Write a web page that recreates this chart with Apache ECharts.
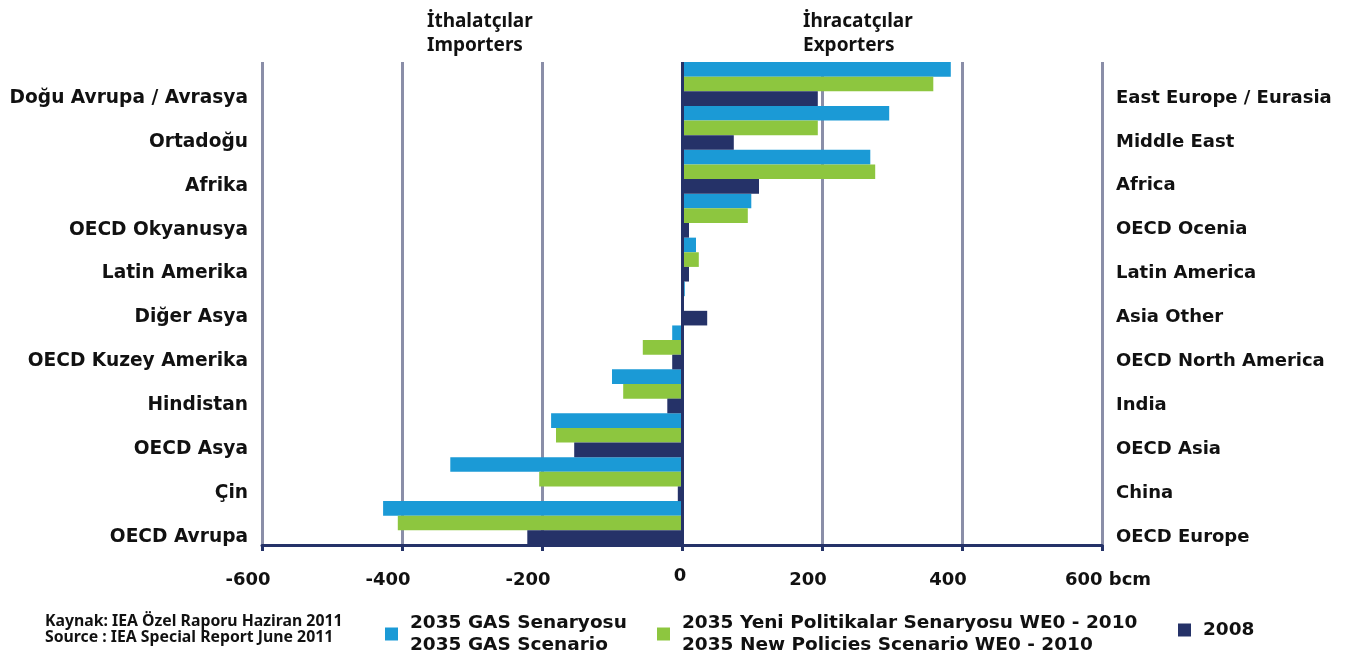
<!DOCTYPE html>
<html>
<head>
<meta charset="utf-8">
<script src="https://cdn.jsdelivr.net/npm/echarts@6/dist/echarts.min.js"></script>
<style>
  html, body { margin: 0; padding: 0; background: #fff; }
  #chart { width: 1353px; height: 652px; }
</style>
</head>
<body>
<div id="chart"></div>
<script>
// Regions, top to bottom (Turkish names on the left, English on the right)
const regionsTr = ['Doğu Avrupa / Avrasya', 'Ortadoğu', 'Afrika', 'OECD Okyanusya', 'Latin Amerika',
  'Diğer Asya', 'OECD Kuzey Amerika', 'Hindistan', 'OECD Asya', 'Çin', 'OECD Avrupa'];
const regionsEn = ['East Europe / Eurasia', 'Middle East', 'Africa', 'OECD Ocenia', 'Latin America',
  'Asia Other', 'OECD North America', 'India', 'OECD Asia', 'China', 'OECD Europe'];

// Net gas trade, bcm (positive = exports, negative = imports)
const gasScenario2035 = [384, 296, 269, 99, 20, 4, -14, -100, -187, -331, -427];
const newPolicies2035 = [359, 194, 276, 94, 24, 1, -56, -84, -180, -204, -406];
const actual2008 = [194, 74, 110, 10, 10, 36, -14, -21, -154, -6, -221];

const xTicks = [-600, -400, -200, 0, 200, 400, 600];
const xUnit = 'bcm';

const seriesNames = [
  '2035 GAS Senaryosu\n2035 GAS Scenario',
  '2035 Yeni Politikalar Senaryosu WE0 - 2010\n2035 New Policies Scenario WE0 - 2010',
  '2008'
];
const colors = ['#1b9ad6', '#8dc63f', '#253268'];

const FONT = 'DejaVu Sans';
const FONT_NARROW = 'Noto Sans';
const chart = echarts.init(document.getElementById('chart'));

const barBase = {
  type: 'bar',
  barGap: '0%',
  barCategoryGap: '0%',
  xAxisIndex: 0,
  yAxisIndex: 0
};

const legendBase = {
  orient: 'horizontal',
  itemWidth: 13,
  itemHeight: 13,
  icon: 'rect',
  itemGap: 12,
  textStyle: {
    fontFamily: FONT, fontWeight: 'bold', fontSize: 18.5, color: '#111',
    lineHeight: 22, padding: [0, 0, 0, 7]
  }
};

// category names sit a little below the centre of their band
const catLabel = size => ({
  margin: 14,
  formatter: v => '{c|' + v + '}',
  rich: { c: { fontFamily: FONT, fontWeight: 'bold', fontSize: size, color: '#111', padding: [28, 0, 0, 0] } }
});

const tickText = { fontFamily: FONT, fontWeight: 'bold', fontSize: 18, color: '#111' };

chart.setOption({
  animation: false,
  color: colors,
  grid: { left: 262, right: 251, top: 62, bottom: 107, containLabel: false },
  xAxis: {
    type: 'value',
    min: xTicks[0],
    max: xTicks[xTicks.length - 1],
    interval: 200,
    axisLine: { show: true, onZero: false, lineStyle: { color: '#253268', width: 3 } },
    axisTick: { show: true, length: 6, lineStyle: { color: '#253268', width: 3 } },
    splitLine: { show: true, lineStyle: { color: '#8a8ea8', width: 3 } },
    axisLabel: {
      margin: 22,
      formatter: v => {
        if (v === 0) return '{z|0}';
        if (v === xTicks[xTicks.length - 1]) return '{e|' + v + ' ' + xUnit + '}';
        return '{n|' + v + '}';
      },
      rich: {
        n: Object.assign({ padding: [4, 28, 0, 0] }, tickText),
        z: Object.assign({ padding: [0, 4, 0, 0] }, tickText),
        e: Object.assign({ padding: [4, 0, 0, 12] }, tickText)
      }
    }
  },
  yAxis: [
    {
      type: 'category',
      data: regionsTr,
      inverse: true,
      position: 'left',
      axisLine: { show: false, onZero: false },
      axisTick: { show: false },
      axisLabel: catLabel(18.6)
    },
    {
      type: 'category',
      data: regionsEn,
      inverse: true,
      position: 'right',
      axisLine: { show: false, onZero: false },
      axisTick: { show: false },
      axisLabel: catLabel(18)
    }
  ],
  legend: [
    Object.assign({}, legendBase, { data: [seriesNames[0]], left: 380, top: 607 }),
    Object.assign({}, legendBase, { data: [seriesNames[1]], left: 652, top: 607 }),
    Object.assign({}, legendBase, { data: [seriesNames[2]], left: 1173, top: 614 })
  ],
  series: [
    Object.assign({}, barBase, {
      name: seriesNames[0],
      data: gasScenario2035,
      // zero line between importers and exporters
      markLine: {
        symbol: 'none',
        silent: true,
        label: { show: false },
        lineStyle: { color: '#253268', width: 3, type: 'solid' },
        data: [{ xAxis: 0 }]
      }
    }),
    Object.assign({}, barBase, { name: seriesNames[1], data: newPolicies2035 }),
    Object.assign({}, barBase, { name: seriesNames[2], data: actual2008 })
  ],
  graphic: [
    {
      type: 'text', left: 427, top: 10,
      style: { text: 'İthalatçılar\nImporters', font: 'bold 19px "' + FONT_NARROW + '"', fill: '#111', lineHeight: 24 }
    },
    {
      type: 'text', left: 803, top: 10,
      style: { text: 'İhracatçılar\nExporters', font: 'bold 19px "' + FONT_NARROW + '"', fill: '#111', lineHeight: 24 }
    },
    {
      type: 'text', left: 45, top: 613,
      style: {
        text: 'Kaynak: IEA Özel Raporu Haziran 2011\nSource : IEA Special Report June 2011',
        font: 'bold 15.8px "' + FONT_NARROW + '"', fill: '#111', lineHeight: 16
      }
    }
  ]
});
</script>
</body>
</html>
